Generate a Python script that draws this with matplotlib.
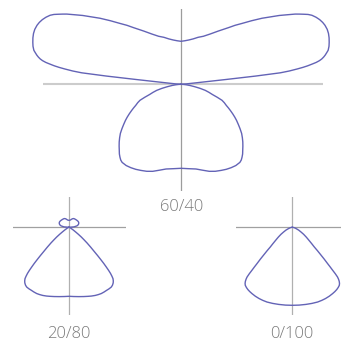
import numpy as np
import matplotlib
matplotlib.use("Agg")
import matplotlib.pyplot as plt

W, H = 341, 344

# luminous intensity, relative units
# downward lobes: angle from nadir (deg)
# upward lobes: elevation above horizontal (deg)
down_6040_ang = [0, 5, 10, 14, 18, 21.5, 25, 28, 31, 34, 37, 38.5, 40, 41.5, 43, 45, 47, 49, 51, 53,
                 55, 57, 58.6, 60.3, 62, 63.5, 65, 67, 68.7, 70.3, 72, 74, 76, 78, 80, 82.5, 85, 87.5, 90]
down_6040_val = [84, 84.7, 86, 88.5, 91.5, 93.5, 95, 96.3, 97.3, 98, 97.8, 96.8, 95, 93, 90.5, 87.5, 84.5,
                 81.3, 78, 74, 70, 66.2, 63, 59.5, 56, 53, 50, 47, 44, 38.5, 33, 29, 25, 19.5, 14, 9, 5, 2, 0]

up_6040_ang = [0, 4, 5.8, 6.1, 6.3, 6.6, 7.0, 7.5, 7.9, 8.3, 8.8, 9.2, 9.7, 10.2, 10.8, 11.4, 12.2,
               13, 14.4, 15.8, 17.4, 19, 20.6, 22.3, 23.6, 25, 26.4, 27.8, 28.8, 29.8, 30.7, 31.6,
               33.2, 35, 37, 39.2, 42, 45, 47.5, 50, 55, 60, 65, 70, 75, 80, 85, 90]
up_6040_val = [0, 5, 20, 45, 75, 100, 109, 117, 123, 128, 133, 137, 140.5, 143, 145.2, 147, 149,
               151, 152.8, 154, 155.2, 156, 156.2, 155.6, 154.6, 153, 150.8, 148, 145, 141, 137.5, 134,
               127, 120, 112, 104.5, 95, 86, 80, 74, 65, 58, 53, 50, 47, 45, 43.7, 43]

down_2080_ang = [0, 4, 8, 12, 15.4, 18, 21, 23.5, 26, 28.5, 31, 33.2, 35.3, 36.9, 38.5, 39.6, 40.6,
                 41.3, 42, 42.6, 43.2, 43.9, 44.6, 45.3, 46.1, 47.5, 49, 50.3, 51.7, 53.3, 55, 57.5,
                 60, 65, 70, 80, 90]
down_2080_val = [69, 69.4, 70, 70.8, 71.6, 72.3, 73, 73.4, 73.7, 73.6, 73.4, 73.4, 73.2, 72.4, 71, 69.5,
                 67.6, 65, 62, 58.5, 54.5, 50, 45, 40.5, 35.6, 29.5, 24, 19.5, 15.7, 11.5, 8, 5,
                 3, 1.8, 1, 0.4, 0]

up_2080_ang = [0, 5, 10, 14, 18, 22, 25.8, 30, 35, 40, 45, 52, 60, 64, 68, 71.5, 75, 78.5, 82, 86, 90]
up_2080_val = [0, 5, 8, 9.2, 10, 10.5, 10.8, 10.9, 10.8, 10.6, 10.4, 10.2, 10, 9.7, 9.2, 8.6, 8, 7.5,
               7.2, 7.05, 7]

down_0100_ang = [0, 5, 10, 14.5, 18.7, 22, 25, 28.2, 31.3, 33.5, 35.5, 37.3, 39, 40.1, 41, 41.7, 42.3,
                 42.8, 43.2, 43.7, 44.2, 45.1, 46, 47.1, 48.2, 49.8, 51.5, 53.2, 55, 58.3, 61.6,
                 66, 70, 75, 80, 85, 90]
down_0100_val = [78, 78.1, 78.3, 78.6, 78.9, 78.8, 78.6, 78.2, 77.6, 77.1, 76.5, 75.7, 74.7, 73.3,
                 71.5, 69.5, 67.2, 63.3, 59, 54.8, 50.6, 45, 39.5, 34.3, 29.5, 25.5, 22, 19.3, 17,
                 13.3, 9.9, 7, 4.5, 2.8, 1.5, 0.6, 0]

labels = ["60/40", "20/80", "0/100"]

curve_col = "#6363b6"
text_col = "#7a7a7a"


def lobe_down(ang, val):
    g = np.radians(ang)
    v = np.array(val)
    xr, yr = v * np.sin(g), -v * np.cos(g)
    return np.concatenate([-xr[::-1], xr[1:]]), np.concatenate([yr[::-1], yr[1:]])


def lobe_up(ang, val):
    e = np.radians(ang)
    v = np.array(val)
    xr, yr = v * np.cos(e), v * np.sin(e)
    return np.concatenate([xr, -xr[::-1][1:]]), np.concatenate([yr, yr[::-1][1:]])


def add_chart(cx, cy, left, right, up, down, hcol, hlw, vcol):
    ax = fig.add_axes([(cx - left) / W, (H - cy - down) / H, (left + right) / W, (up + down) / H])
    ax.set_xlim(-left, right)
    ax.set_ylim(-down, up)
    ax.axis("off")
    ax.axhline(0, color=hcol, lw=hlw, zorder=1)
    ax.axvline(0, color=vcol, lw=0.9, zorder=1)
    return ax


fig = plt.figure(figsize=(W / 100, H / 100), dpi=100)

ax1 = add_chart(181, 84.3, 138, 142, 75, 107, "#cccccc", 1.5, "#9c9c9c")
for x, y in [lobe_down(down_6040_ang, down_6040_val), lobe_up(up_6040_ang, up_6040_val)]:
    ax1.plot(x, y, color=curve_col, lw=1.0, clip_on=False, zorder=3, solid_joinstyle="round")

ax2 = add_chart(69, 227.3, 56, 57, 30, 88, "#a0a0a0", 0.9, "#b0b0b0")
for x, y in [lobe_down(down_2080_ang, down_2080_val), lobe_up(up_2080_ang, up_2080_val)]:
    ax2.plot(x, y, color=curve_col, lw=1.0, clip_on=False, zorder=3, solid_joinstyle="round")

ax3 = add_chart(292.3, 227.3, 56, 57, 30, 88, "#a0a0a0", 0.9, "#b0b0b0")
x, y = lobe_down(down_0100_ang, down_0100_val)
ax3.plot(x, y, color=curve_col, lw=1.0, clip_on=False, zorder=3, solid_joinstyle="round")

for (tx, ty), lab in zip([(182, 210.7), (69, 338.3), (292, 337.5)], labels):
    fig.text(tx / W, 1 - ty / H, lab, ha="center", va="baseline", fontsize=12,
             color=text_col, family="Open Sans", fontweight="light")

fig.savefig("out.png", dpi=100)
